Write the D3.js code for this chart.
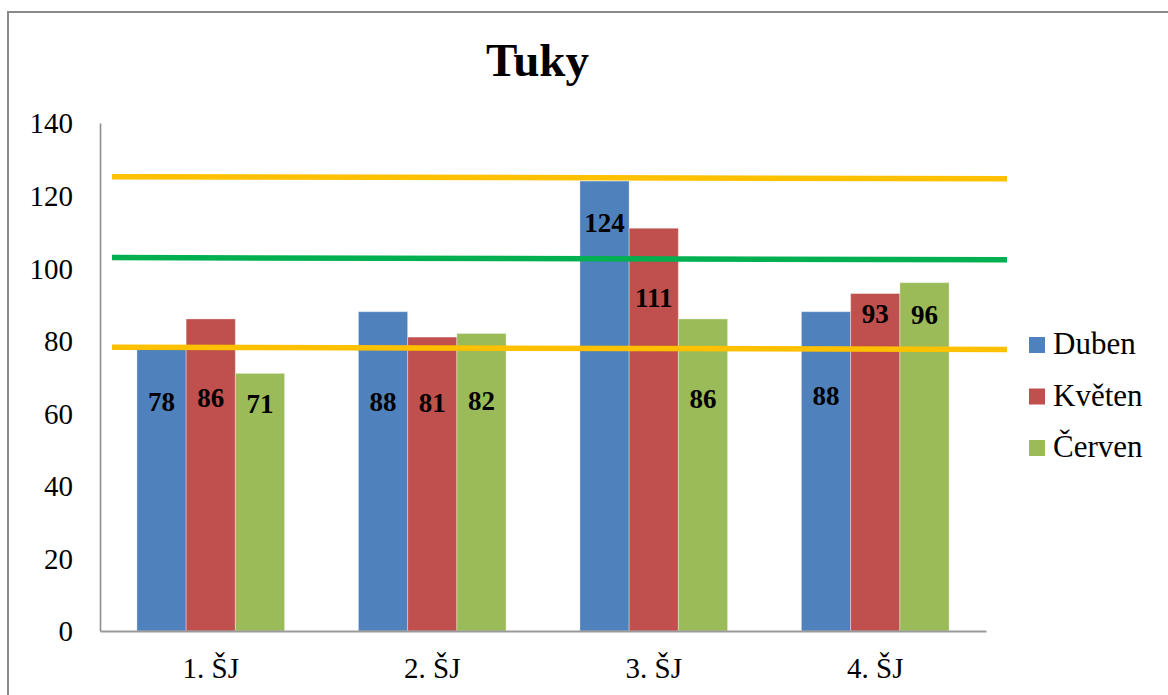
<!DOCTYPE html>
<html>
<head>
<meta charset="utf-8">
<script src="https://cdn.jsdelivr.net/npm/d3@7/dist/d3.min.js"></script>
<style>
  html, body { margin: 0; padding: 0; background: #fff; }
  svg { display: block; }
  text { font-family: "Liberation Serif", "Times New Roman", serif; fill: #000; }
</style>
</head>
<body>
<svg id="chart" width="1168" height="695"></svg>
<script>
// ---- data ----
const title = "Tuky";
const categories = ["1. ŠJ", "2. ŠJ", "3. ŠJ", "4. ŠJ"];
const seriesNames = ["Duben", "Květen", "Červen"];
const duben  = [78, 88, 124, 88];
const kveten = [86, 81, 111, 93];
const cerven = [71, 82, 86, 96];
const yTicks = [0, 20, 40, 60, 80, 100, 120, 140];
// reference lines: value at the left end and at the right end
const limitStart = [125.2, 102.9, 78.2];
const limitEnd   = [124.65, 102.3, 77.6];

// ---- styles / layout ----
const serif = '"Liberation Serif", "Times New Roman", serif';
const seriesColors = ["#4F81BD", "#C0504D", "#9BBB59"];
const limitColors = ["#FFC000", "#00B050", "#FFC000"];
// vertical anchor (in axis units) where each value label is centred
const labelAnchor = [
  [63.2, 64.4, 62.5],
  [63.2, 62.8, 63.4],
  [112.5, 91.7, 63.9],
  [64.8, 87.3, 87.1]
];

const seriesValues = [duben, kveten, cerven];
const svg = d3.select("#chart");

// outer frame
svg.append("rect")
  .attr("x", 8).attr("y", 12)
  .attr("width", 1200).attr("height", 720)
  .attr("fill", "#fff")
  .attr("stroke", "#898989").attr("stroke-width", 2);

const plot = { left: 100, right: 986, top: 123, bottom: 631 };

const x0 = d3.scaleBand().domain(categories).range([plot.left, plot.right]);
const bw = x0.bandwidth();
const x1 = d3.scaleBand().domain(seriesNames).range([bw / 6, bw * 5 / 6]);
const y = d3.scaleLinear().domain([0, 140]).range([plot.bottom, plot.top]);

// title
svg.append("text")
  .attr("x", 537.5).attr("y", 76)
  .attr("text-anchor", "middle")
  .style("font-family", serif)
  .style("font-size", "47px").style("font-weight", "bold")
  .text(title);

// bars
const groups = svg.append("g").selectAll("g")
  .data(categories)
  .join("g")
  .attr("transform", d => `translate(${x0(d)},0)`);

groups.selectAll("rect")
  .data((c, i) => seriesNames.map((s, k) => ({ s, k, v: seriesValues[k][i] })))
  .join("rect")
  .attr("x", d => x1(d.s))
  .attr("y", d => y(d.v))
  .attr("width", x1.bandwidth())
  .attr("height", d => y(0) - y(d.v))
  .attr("fill", d => seriesColors[d.k])
  .attr("stroke", "rgba(255,255,255,0.35)")
  .attr("stroke-width", 1);

// y axis
const yAxis = d3.axisLeft(y).tickValues(yTicks).tickSize(0).tickPadding(27);
const gy = svg.append("g").attr("transform", `translate(${plot.left},0)`).call(yAxis);
gy.attr("font-family", null);
gy.select(".domain").attr("stroke", "#8e8e8e").attr("stroke-width", 1.6);
gy.selectAll(".tick text")
  .style("font-family", serif)
  .style("font-size", "29px")
  .attr("dy", "0.34em");

// x axis
const xAxis = d3.axisBottom(x0).tickSize(0).tickPadding(26);
const gx = svg.append("g").attr("transform", `translate(0,${plot.bottom})`).call(xAxis);
gx.attr("font-family", null);
gx.select(".domain").attr("stroke", "#9a9a9a").attr("stroke-width", 2);
gx.selectAll(".tick text")
  .style("font-family", serif)
  .style("font-size", "29px")
  .attr("dy", "0.71em");

// reference lines
const limitX0 = plot.left + 12, limitX1 = plot.right + 21;
svg.append("g").selectAll("line")
  .data(limitStart.map((v, i) => ({ a: v, b: limitEnd[i], c: limitColors[i] })))
  .join("line")
  .attr("x1", limitX0).attr("x2", limitX1)
  .attr("y1", d => y(d.a)).attr("y2", d => y(d.b))
  .attr("stroke", d => d.c)
  .attr("stroke-width", 5.5);

// value labels
groups.selectAll("text.val")
  .data((c, i) => seriesNames.map((s, k) => ({ s, v: seriesValues[k][i], a: labelAnchor[i][k] })))
  .join("text")
  .attr("class", "val")
  .attr("x", d => x1(d.s) + x1.bandwidth() / 2)
  .attr("y", d => y(d.a))
  .attr("dy", "0.34em")
  .attr("text-anchor", "middle")
  .style("font-family", serif)
  .style("font-size", "27px").style("font-weight", "bold")
  .text(d => d.v);

// legend
const legend = svg.append("g").attr("transform", "translate(1029,337)");
const li = legend.selectAll("g")
  .data(seriesNames)
  .join("g")
  .attr("transform", (d, i) => `translate(0,${i * 51.5})`);
li.append("rect")
  .attr("width", 16).attr("height", 16)
  .attr("fill", (d, i) => seriesColors[i]);
li.append("text")
  .attr("x", 24).attr("y", 17)
  .style("font-family", serif)
  .style("font-size", "31px")
  .text(d => d);
</script>
</body>
</html>
